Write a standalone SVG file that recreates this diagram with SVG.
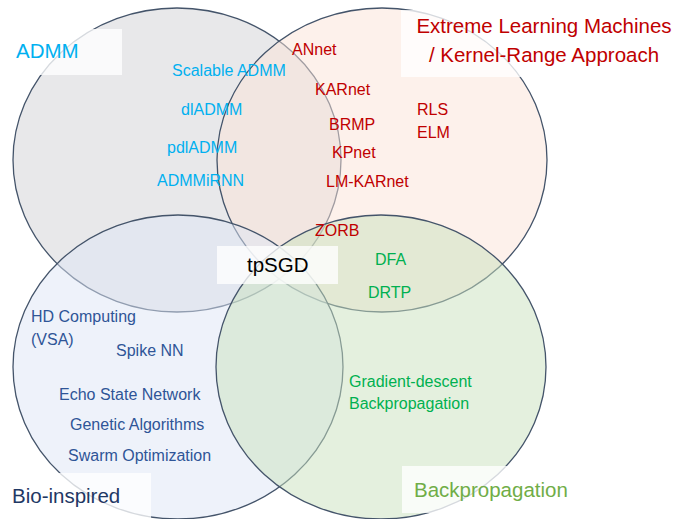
<svg xmlns="http://www.w3.org/2000/svg" width="676" height="519" viewBox="0 0 676 519">
<style>
.set{stroke:#44546a;stroke-width:1.3;fill-opacity:0.5}
.box{fill:#ffffff;fill-opacity:0.78}
text{font-family:"Liberation Sans",Arial,sans-serif}
.item{font-size:16px}
.admm{fill:#00b0f0}
.elm{fill:#c00000}
.bio{fill:#2f5597}
.bp{fill:#00b050}
.title{font-size:20.5px}
</style>
<rect width="676" height="519" fill="#ffffff"/>
<g id="sets">
<g id="set-admm"><ellipse class="set" cx="177" cy="160" rx="164" ry="152" fill="#d1d1d5"/></g>
<g id="set-elm"><ellipse class="set" cx="382" cy="160" rx="165" ry="152" fill="#fbe4d8"/></g>
<g id="set-bio"><ellipse class="set" cx="178" cy="367" rx="165" ry="152" fill="#dde5f5"/></g>
<g id="set-bp"><ellipse class="set" cx="381" cy="367" rx="165" ry="152" fill="#c9e1bd"/></g>
</g>
<g id="labels">
<g id="label-admm"><rect class="box" x="10" y="29" width="112" height="46"/><text class="title admm" x="16" y="58" font-size="21.5px">ADMM</text></g>
<g id="label-elm"><rect class="box" x="401" y="10" width="275" height="67"/><text class="title elm" x="544" y="33" text-anchor="middle">Extreme Learning Machines</text><text class="title elm" x="544" y="62" text-anchor="middle">/ Kernel-Range Approach</text></g>
<g id="label-bio"><rect class="box" x="0" y="473" width="151" height="46"/><text class="title" fill="#1f3864" x="12" y="503">Bio-inspired</text></g>
<g id="label-bp"><rect class="box" x="402" y="466" width="120" height="47"/><text class="title" fill="#70ad47" x="414" y="497">Backpropagation</text></g>
<g id="label-tpsgd"><rect class="box" x="217" y="246" width="121" height="38"/><text class="title" fill="#000000" x="247" y="272" font-size="21px">tpSGD</text></g>
</g>
<g id="items-admm">
<text class="item admm" x="172" y="76">Scalable ADMM</text>
<text class="item admm" x="181" y="115">dlADMM</text>
<text class="item admm" x="167" y="153">pdlADMM</text>
<text class="item admm" x="157" y="186">ADMMiRNN</text>
</g>
<g id="items-elm">
<text class="item elm" x="292" y="55">ANnet</text>
<text class="item elm" x="315" y="95">KARnet</text>
<text class="item elm" x="329" y="130">BRMP</text>
<text class="item elm" x="332" y="158">KPnet</text>
<text class="item elm" x="326" y="187">LM-KARnet</text>
<text class="item elm" x="315" y="236">ZORB</text>
<text class="item elm" x="417" y="115">RLS</text>
<text class="item elm" x="417" y="138">ELM</text>
</g>
<g id="items-bp">
<text class="item bp" x="375" y="265">DFA</text>
<text class="item bp" x="368" y="298">DRTP</text>
<text class="item bp" x="349" y="387">Gradient-descent</text>
<text class="item bp" x="349" y="409">Backpropagation</text>
</g>
<g id="items-bio">
<text class="item bio" x="31" y="322">HD Computing</text>
<text class="item bio" x="31" y="345">(VSA)</text>
<text class="item bio" x="116" y="356">Spike NN</text>
<text class="item bio" x="59" y="400">Echo State Network</text>
<text class="item bio" x="70" y="430">Genetic Algorithms</text>
<text class="item bio" x="68" y="461">Swarm Optimization</text>
</g>
<g id="connectors"></g>
</svg>
